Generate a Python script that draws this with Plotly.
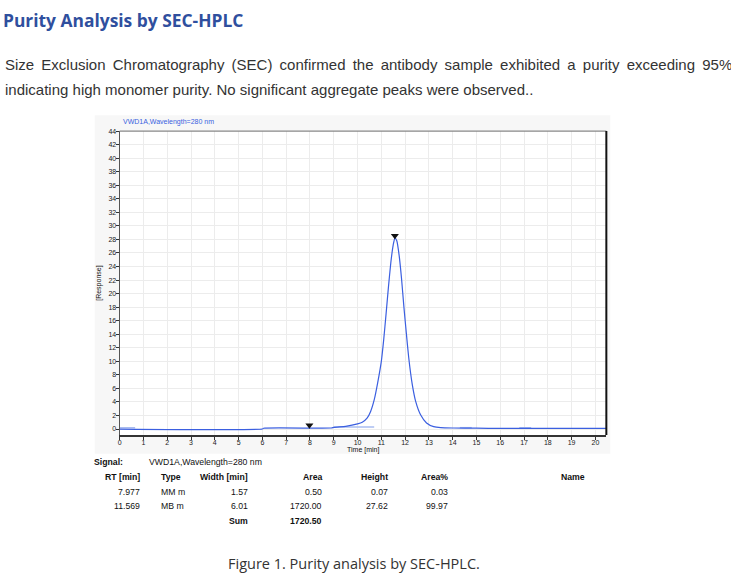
import plotly.graph_objects as go

# --- chromatogram ---
time_min = [0.0, 6.0, 6.05, 8.9, 9.0, 9.5, 10.0, 10.2, 10.4, 10.55, 10.7,
            10.85, 11.0, 11.1, 11.2, 11.3, 11.4, 11.5, 11.57, 11.65, 11.75,
            11.85, 11.95, 12.05, 12.15, 12.3, 12.45, 12.65, 12.9, 13.2, 13.5,
            14.0, 15.0, 16.0, 17.0, 18.0, 19.0, 20.46]
response = [0.0, 0.0, 0.12, 0.15, 0.25, 0.4, 0.75, 1.0, 1.6, 2.6, 4.3,
            6.9, 10.0, 13.2, 17.0, 21.0, 24.6, 27.2, 28.2, 27.8, 25.6,
            22.2, 18.0, 14.2, 10.6, 6.6, 4.0, 2.1, 0.9, 0.35, 0.2,
            0.15, 0.12, 0.1, 0.1, 0.1, 0.1, 0.1]

# integration baseline pieces (light blue)
base_t = [0.0, 0.65, None, 9.0, 10.7, None, 14.3, 14.8, None, 16.8, 17.3]
base_y = [0.2, 0.2, None, 0.3, 0.3, None, 0.2, 0.2, None, 0.2, 0.2]

# peak table
rt_min = [7.977, 11.569]
peak_type = ["MM m", "MB m"]
width_min = [1.57, 6.01]
area = [0.50, 1720.00]
height = [0.07, 27.62]
area_pct = [0.03, 99.97]
marker_y = [0.55, 28.55]

x_ticks = list(range(0, 21))
y_ticks = list(range(0, 45, 2))

W, H = 731, 577


def px(x):
    return x / W


def py(y):
    return 1 - y / H


fig = go.Figure()

fig.add_trace(go.Scatter(x=base_t, y=base_y, mode="lines",
                         line=dict(color="#a9bcf0", width=1.5),
                         hoverinfo="skip", showlegend=False))
fig.add_trace(go.Scatter(x=time_min, y=response, mode="lines",
                         line=dict(color="#3b5fe0", width=1.2, shape="spline",
                                   smoothing=0.5),
                         showlegend=False))
fig.add_trace(go.Scatter(x=rt_min, y=marker_y, mode="markers",
                         marker=dict(symbol="triangle-down", size=7, color="#111"),
                         showlegend=False))

axis_font = dict(family="Liberation Sans, Arial", size=7, color="#222")

fig.update_layout(
    width=W, height=H,
    margin=dict(l=0, r=0, t=0, b=0),
    paper_bgcolor="white",
    plot_bgcolor="white",
    xaxis=dict(domain=[px(118), px(606)], range=[0, 20.46],
               tickvals=x_ticks, ticks="outside", ticklen=3, tickcolor="#333",
               ticklabelstandoff=-3,
               tickfont=axis_font, showgrid=True, gridcolor="#ececec",
               showline=True, linecolor="#333", linewidth=2, zeroline=False),
    yaxis=dict(domain=[py(434), py(128)], range=[-0.88, 44],
               tickvals=y_ticks, ticks="outside", ticklen=3, tickcolor="#333",
               ticklabelstandoff=-2,
               tickfont=axis_font, showgrid=True, gridcolor="#ececec",
               showline=True, linecolor="#555", linewidth=1, zeroline=False),
)

# grey chart frame and plot borders
fig.add_shape(type="rect", xref="paper", yref="paper", layer="below",
              x0=px(93), x1=px(610), y0=py(453), y1=py(112),
              fillcolor="#f7f7f7", line=dict(width=0))
fig.add_shape(type="rect", xref="paper", yref="paper", layer="below",
              x0=px(118), x1=px(606), y0=py(434), y1=py(128),
              fillcolor="white", line=dict(width=0))
fig.add_shape(type="line", xref="paper", yref="paper",
              x0=px(118), x1=px(606), y0=py(128), y1=py(128),
              line=dict(color="#888", width=1.2))
fig.add_shape(type="line", xref="paper", yref="paper",
              x0=px(606), x1=px(606), y0=py(434), y1=py(128),
              line=dict(color="#111", width=2))


def text(x, y, s, size, xanchor="left", bold=False, color="#111",
         family="Liberation Sans, Arial", angle=0):
    fig.add_annotation(x=px(x), y=py(y), xref="paper", yref="paper",
                       text=f"<b>{s}</b>" if bold else s, showarrow=False,
                       xanchor=xanchor, yanchor="middle", textangle=angle,
                       borderpad=0, borderwidth=0,
                       font=dict(family=family, size=size, color=color))


# page text
line1 = ("Size Exclusion Chromatography (SEC) confirmed the antibody sample "
         "exhibited a purity exceeding 95%,")
text(1, 16, "Purity Analysis by SEC-HPLC", 17.4, bold=True, color="#2f4f9e",
     family="Open Sans")
text(3, 61, line1.replace(" ", " \u2009"), 15, color="#333")
text(3, 86, "indicating high monomer purity. No significant aggregate peaks "
     "were observed..", 15, color="#333")
text(353, 563, "Figure 1. Purity analysis by SEC-HPLC.", 14.5, xanchor="center",
     color="#333", family="Open Sans")

# chart labels
text(121, 119, "VWD1A,Wavelength=280 nm", 7, color="#3b5fe0")
text(97, 281, "[Response]", 7, xanchor="center", angle=-90)
text(362, 449, "Time [min]", 7, xanchor="center")

# peak table
fs = 8.7
text(92, 461, "Signal:", fs, bold=True)
text(147, 461, "VWD1A,Wavelength=280 nm", fs)
headers = [(138, "RT [min]", "right"), (159, "Type", "left"),
           (247, "Width [min]", "right"), (321, "Area", "right"),
           (387, "Height", "right"), (447, "Area%", "right"),
           (573, "Name", "center")]
for x, s, anc in headers:
    text(x, 476, s, fs, xanchor=anc, bold=True)

for i, y in enumerate([491, 506]):
    text(138, y, f"{rt_min[i]:.3f}", fs, xanchor="right")
    text(159, y, peak_type[i], fs)
    text(247, y, f"{width_min[i]:.2f}", fs, xanchor="right")
    text(321, y, f"{area[i]:.2f}", fs, xanchor="right")
    text(387, y, f"{height[i]:.2f}", fs, xanchor="right")
    text(447, y, f"{area_pct[i]:.2f}", fs, xanchor="right")

text(247, 521, "Sum", fs, xanchor="right", bold=True)
text(321, 521, f"{sum(area):.2f}", fs, xanchor="right", bold=True)

# page margin of the browser would shift the figure by 8px
fig.write_html("out.html", config={"displayModeBar": False},
               post_script="document.body.style.margin='0';")
